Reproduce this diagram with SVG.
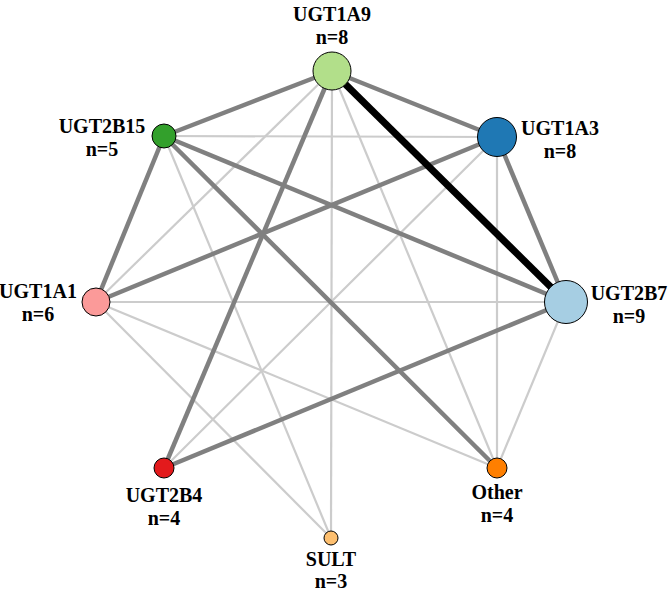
<svg xmlns="http://www.w3.org/2000/svg" width="669" height="591" viewBox="0 0 669 591">
<style>
.lt{stroke:#cccccc;stroke-width:2.2;fill:none}
.md{stroke:#808080;stroke-width:4.5;fill:none}
.bk{stroke:#000000;stroke-width:7;fill:none}
.nd{stroke:#000000;stroke-width:1}
text{font-family:"Liberation Serif","Times New Roman",serif;font-weight:bold;font-size:20px;fill:#000;text-anchor:middle}
</style>
<rect width="669" height="591" fill="#ffffff"/>
<g id="connectors">
<line class="lt" x1="332" y1="71" x2="96" y2="302"/>
<line class="lt" x1="332" y1="71" x2="331" y2="538"/>
<line class="lt" x1="332" y1="71" x2="497" y2="468"/>
<line class="lt" x1="164" y1="136" x2="497" y2="137"/>
<line class="lt" x1="164" y1="136" x2="331" y2="538"/>
<line class="lt" x1="497" y1="137" x2="164" y2="468"/>
<line class="lt" x1="497" y1="137" x2="497" y2="468"/>
<line class="lt" x1="96" y1="302" x2="566" y2="302"/>
<line class="lt" x1="96" y1="302" x2="497" y2="468"/>
<line class="lt" x1="96" y1="302" x2="331" y2="538"/>
<line class="lt" x1="566" y1="302" x2="497" y2="468"/>
<line class="md" x1="332" y1="71" x2="164" y2="136"/>
<line class="md" x1="332" y1="71" x2="497" y2="137"/>
<line class="md" x1="332" y1="71" x2="164" y2="468"/>
<line class="md" x1="164" y1="136" x2="96" y2="302"/>
<line class="md" x1="164" y1="136" x2="566" y2="302"/>
<line class="md" x1="164" y1="136" x2="497" y2="468"/>
<line class="md" x1="497" y1="137" x2="96" y2="302"/>
<line class="md" x1="497" y1="137" x2="566" y2="302"/>
<line class="md" x1="566" y1="302" x2="164" y2="468"/>
<line class="bk" x1="332" y1="71" x2="566" y2="302"/>
</g>
<g id="UGT1A9"><circle class="nd" cx="332" cy="71" r="19" fill="#b2df8a"/><text x="332" y="21">UGT1A9</text><text x="332" y="44">n=8</text></g>
<g id="UGT2B15"><circle class="nd" cx="164" cy="136" r="12" fill="#33a02c"/><text x="102" y="133">UGT2B15</text><text x="102" y="156">n=5</text></g>
<g id="UGT1A3"><circle class="nd" cx="497" cy="137" r="19.5" fill="#1f78b4"/><text x="560" y="135">UGT1A3</text><text x="560" y="158">n=8</text></g>
<g id="UGT1A1"><circle class="nd" cx="96" cy="302" r="14" fill="#fb9a99"/><text x="38" y="298">UGT1A1</text><text x="38" y="321">n=6</text></g>
<g id="UGT2B7"><circle class="nd" cx="566" cy="302" r="21.5" fill="#a6cee3"/><text x="629" y="300">UGT2B7</text><text x="629" y="323">n=9</text></g>
<g id="UGT2B4"><circle class="nd" cx="164" cy="468" r="10" fill="#e31a1c"/><text x="164" y="502">UGT2B4</text><text x="164" y="525">n=4</text></g>
<g id="Other"><circle class="nd" cx="497" cy="468" r="10" fill="#ff7f00"/><text x="497" y="499">Other</text><text x="497" y="522">n=4</text></g>
<g id="SULT"><circle class="nd" cx="331" cy="538" r="7" fill="#fdbf6f"/><text x="331" y="566">SULT</text><text x="331" y="588">n=3</text></g>
</svg>
